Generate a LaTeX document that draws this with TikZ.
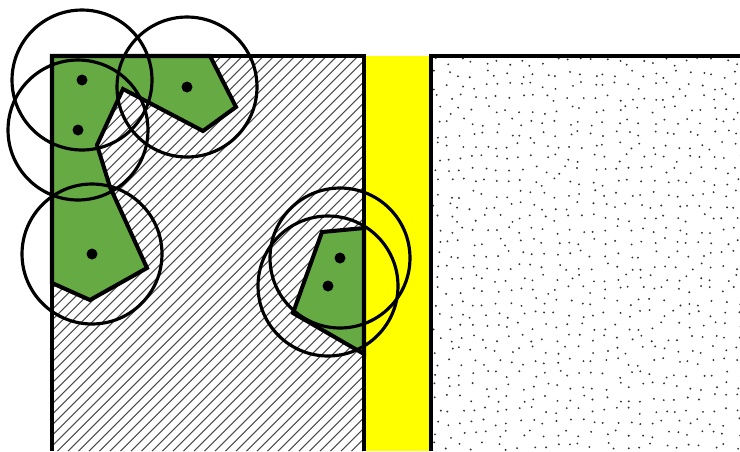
\documentclass[tikz,border=0pt]{standalone}
\usepackage{xcolor}
\usepackage{tikz}
\definecolor{cellgreen}{RGB}{102,170,68}
\definecolor{gapyellow}{RGB}{255,255,0}

\begin{document}
\begin{tikzpicture}[x=0.02cm, y=-0.02cm,
  site/.style={circle,fill=black,inner sep=0pt,minimum size=0.22cm},
  reach/.style={line width=1.8pt},
  wall/.style={line width=2.3pt}]
  \useasboundingbox (0,0) rectangle (740,451);
  \fill[gapyellow] (364,56) rectangle (431,451);
  \begin{scope}
    \clip (52,56) rectangle (364,451);
    \foreach \a in {-352,-341.5,...,364}
      \draw[black!70, line width=0.6pt] (\a,451) -- (\a+395,56);
  \end{scope}
  \begin{scope}
    \clip (433,58) rectangle (740,451);
    \pgfmathsetseed{17}
    \foreach \i in {0,...,25}
      \foreach \j in {0,...,32}
        \fill[black!80] ({437+\i*12+4*rand},{62+\j*12+4*rand}) circle[radius=0.6pt];
  \end{scope}
  \filldraw[fill=cellgreen, wall] (52,56) -- (210,56) -- (236,107) -- (203,131) -- (123,89) -- (97,145)
    -- (110,187) -- (147,268) -- (90,300) -- (52,283) -- cycle;
  \filldraw[fill=cellgreen, wall] (364,228) -- (322,232) -- (293,313) -- (364,354) -- cycle;
  \draw[wall] (52,451) -- (52,56) -- (364,56) -- (364,451);
  \draw[wall] (431,451) -- (431,56) -- (740,56);
  \node[site] (s1) at (82,80) {};
  \node[site] (s2) at (78,130) {};
  \node[site] (s3) at (187,87) {};
  \node[site] (s4) at (92,254) {};
  \node[site] (s5) at (340,258) {};
  \node[site] (s6) at (328,286) {};
  \foreach \s in {s1,s2,s3,s4,s5,s6}
    \draw[reach] (\s.center) circle (1.4cm);
\end{tikzpicture}
\end{document}
